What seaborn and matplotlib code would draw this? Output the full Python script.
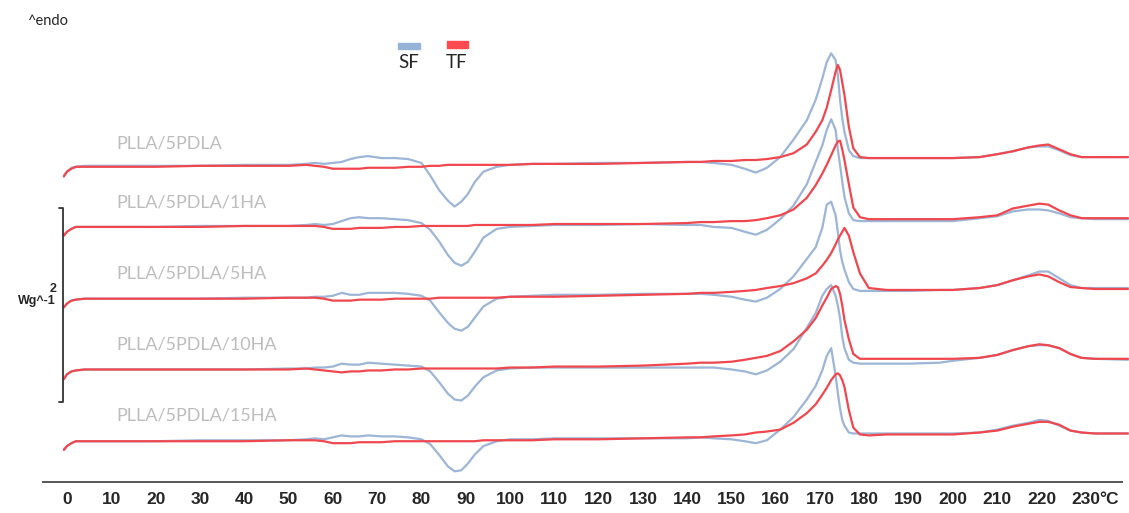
import numpy as np
import pandas as pd
import matplotlib
matplotlib.use("Agg")
import matplotlib.pyplot as plt
from matplotlib.patches import Rectangle
import seaborn as sns

# ---------------- data (heat flow in W/g, relative to each curve's melt baseline) -------------
TEMPS = [-0.7, 0, 1, 2, 4, 10, 20, 30, 40, 50,
         54, 56, 58, 60, 62, 64, 66, 68, 71, 74,
         77, 80, 82, 84, 86, 87.5, 89, 90.5, 92, 94,
         97, 100, 105, 110, 120, 130, 140, 143, 146, 150,
         153, 155.5, 158, 161, 164, 167, 169, 170.5, 171.5, 172.5,
         173.5, 174, 174.5, 175, 175.5, 176.5, 177.5, 179, 181, 185,
         190, 197, 200, 206, 210, 213.5, 217, 219.5, 221.5, 224,
         226.5, 229, 232, 239.5]

SAMPLES = ["PLLA/5PDLA", "PLLA/5PDLA/1HA", "PLLA/5PDLA/5HA",
           "PLLA/5PDLA/10HA", "PLLA/5PDLA/15HA"]
CONDITIONS = ["SF", "TF"]

SF_5PDLA = [-0.19, -0.15, -0.11, -0.10, -0.09, -0.09, -0.09, -0.09, -0.08, -0.08,
            -0.07, -0.06, -0.07, -0.06, -0.05, -0.02, 0.00, 0.01, -0.01, -0.01,
            -0.02, -0.06, -0.19, -0.34, -0.45, -0.51, -0.46, -0.38, -0.26, -0.15,
            -0.10, -0.08, -0.07, -0.07, -0.06, -0.06, -0.05, -0.05, -0.06, -0.08,
            -0.12, -0.16, -0.11, 0.00, 0.18, 0.38, 0.59, 0.81, 0.98, 1.07,
            1.00, 0.85, 0.59, 0.40, 0.26, 0.07, 0.01, -0.01, -0.01, -0.01,
            -0.01, -0.01, -0.01, 0.00, 0.03, 0.06, 0.10, 0.11, 0.11, 0.07,
            0.02, 0.00, 0.00, 0.00]
TF_5PDLA = [-0.20, -0.15, -0.12, -0.10, -0.10, -0.10, -0.10, -0.09, -0.09, -0.09,
            -0.08, -0.09, -0.10, -0.12, -0.12, -0.12, -0.12, -0.11, -0.11, -0.11,
            -0.10, -0.10, -0.09, -0.09, -0.08, -0.08, -0.08, -0.08, -0.08, -0.08,
            -0.08, -0.08, -0.07, -0.07, -0.07, -0.06, -0.05, -0.05, -0.04, -0.04,
            -0.03, -0.03, -0.02, 0.00, 0.04, 0.13, 0.26, 0.38, 0.51, 0.69,
            0.88, 0.95, 0.90, 0.77, 0.64, 0.31, 0.09, 0.00, -0.01, -0.01,
            -0.01, -0.01, -0.01, 0.00, 0.03, 0.06, 0.10, 0.12, 0.13, 0.08,
            0.03, 0.00, 0.00, 0.00]

SF_1HA = [-0.16, -0.13, -0.10, -0.08, -0.08, -0.08, -0.08, -0.07, -0.07, -0.07,
          -0.06, -0.05, -0.06, -0.05, -0.02, 0.01, 0.02, 0.01, 0.01, 0.00,
          -0.01, -0.04, -0.11, -0.23, -0.37, -0.45, -0.48, -0.44, -0.34, -0.19,
          -0.10, -0.08, -0.07, -0.06, -0.06, -0.05, -0.06, -0.06, -0.08, -0.09,
          -0.13, -0.16, -0.11, 0.00, 0.14, 0.36, 0.59, 0.76, 0.92, 1.03,
          0.92, 0.72, 0.56, 0.39, 0.23, 0.06, -0.01, -0.02, -0.02, -0.02,
          -0.02, -0.02, -0.02, 0.01, 0.03, 0.08, 0.10, 0.10, 0.09, 0.06,
          0.02, 0.01, 0.00, 0.00]
TF_1HA = [-0.17, -0.13, -0.10, -0.08, -0.08, -0.08, -0.08, -0.08, -0.07, -0.07,
          -0.07, -0.07, -0.08, -0.10, -0.10, -0.10, -0.09, -0.09, -0.09, -0.08,
          -0.08, -0.07, -0.07, -0.07, -0.07, -0.07, -0.07, -0.07, -0.06, -0.06,
          -0.06, -0.06, -0.06, -0.05, -0.05, -0.05, -0.04, -0.03, -0.03, -0.02,
          -0.02, -0.01, 0.01, 0.04, 0.10, 0.22, 0.35, 0.47, 0.56, 0.66,
          0.76, 0.80, 0.81, 0.72, 0.61, 0.36, 0.12, 0.02, 0.00, 0.00,
          0.00, 0.00, 0.00, 0.02, 0.04, 0.11, 0.14, 0.16, 0.15, 0.09,
          0.04, 0.01, 0.01, 0.01]

SF_5HA = [-0.19, -0.15, -0.12, -0.11, -0.10, -0.10, -0.10, -0.10, -0.09, -0.09,
          -0.09, -0.08, -0.08, -0.07, -0.04, -0.06, -0.06, -0.04, -0.04, -0.04,
          -0.05, -0.07, -0.12, -0.24, -0.35, -0.41, -0.43, -0.39, -0.30, -0.18,
          -0.10, -0.08, -0.07, -0.06, -0.06, -0.05, -0.05, -0.05, -0.06, -0.08,
          -0.11, -0.13, -0.09, 0.00, 0.13, 0.31, 0.43, 0.63, 0.87, 0.90,
          0.76, 0.59, 0.40, 0.28, 0.20, 0.07, 0.00, -0.02, -0.02, -0.02,
          -0.02, -0.01, -0.01, 0.01, 0.04, 0.09, 0.14, 0.18, 0.18, 0.11,
          0.04, 0.01, 0.01, 0.01]
TF_5HA = [-0.19, -0.15, -0.12, -0.11, -0.10, -0.10, -0.10, -0.10, -0.10, -0.09,
          -0.09, -0.09, -0.10, -0.12, -0.12, -0.12, -0.11, -0.11, -0.11, -0.10,
          -0.10, -0.10, -0.10, -0.09, -0.09, -0.09, -0.09, -0.09, -0.09, -0.09,
          -0.09, -0.08, -0.08, -0.08, -0.07, -0.06, -0.05, -0.04, -0.04, -0.03,
          -0.02, -0.01, 0.01, 0.03, 0.06, 0.11, 0.16, 0.24, 0.30, 0.37,
          0.46, 0.51, 0.55, 0.59, 0.63, 0.55, 0.38, 0.16, 0.01, -0.01,
          -0.01, -0.01, -0.01, 0.01, 0.04, 0.09, 0.13, 0.15, 0.13, 0.07,
          0.02, 0.01, 0.00, 0.00]

SF_10HA = [-0.20, -0.16, -0.13, -0.12, -0.11, -0.11, -0.11, -0.11, -0.11, -0.10,
           -0.10, -0.09, -0.09, -0.08, -0.05, -0.06, -0.06, -0.04, -0.05, -0.06,
           -0.07, -0.08, -0.13, -0.24, -0.36, -0.42, -0.43, -0.38, -0.29, -0.19,
           -0.12, -0.10, -0.09, -0.09, -0.09, -0.09, -0.09, -0.09, -0.09, -0.11,
           -0.13, -0.16, -0.12, -0.03, 0.10, 0.32, 0.47, 0.65, 0.72, 0.76,
           0.65, 0.55, 0.42, 0.23, 0.11, -0.01, -0.04, -0.05, -0.05, -0.05,
           -0.05, -0.04, -0.02, 0.01, 0.04, 0.09, 0.13, 0.14, 0.14, 0.11,
           0.05, 0.01, 0.00, -0.01]
TF_10HA = [-0.21, -0.16, -0.13, -0.12, -0.11, -0.11, -0.11, -0.11, -0.11, -0.11,
           -0.10, -0.11, -0.12, -0.13, -0.14, -0.13, -0.13, -0.12, -0.12, -0.11,
           -0.11, -0.10, -0.10, -0.10, -0.10, -0.10, -0.10, -0.10, -0.10, -0.10,
           -0.10, -0.09, -0.09, -0.08, -0.08, -0.07, -0.05, -0.04, -0.04, -0.03,
           -0.01, 0.01, 0.03, 0.08, 0.18, 0.30, 0.42, 0.55, 0.63, 0.72,
           0.75, 0.74, 0.67, 0.55, 0.40, 0.20, 0.05, 0.00, 0.00, 0.00,
           0.00, 0.00, 0.00, 0.01, 0.04, 0.09, 0.13, 0.15, 0.14, 0.11,
           0.05, 0.01, 0.00, 0.00]

SF_15HA = [-0.16, -0.13, -0.10, -0.08, -0.08, -0.08, -0.08, -0.07, -0.07, -0.07,
           -0.06, -0.05, -0.06, -0.04, -0.02, -0.03, -0.03, -0.02, -0.03, -0.03,
           -0.04, -0.06, -0.11, -0.22, -0.34, -0.39, -0.38, -0.31, -0.22, -0.13,
           -0.08, -0.06, -0.06, -0.05, -0.05, -0.05, -0.05, -0.04, -0.05, -0.06,
           -0.08, -0.10, -0.07, 0.04, 0.17, 0.35, 0.49, 0.65, 0.80, 0.88,
           0.60, 0.42, 0.26, 0.14, 0.08, 0.01, 0.00, 0.00, 0.00, 0.00,
           0.00, 0.00, 0.00, 0.01, 0.04, 0.08, 0.11, 0.14, 0.13, 0.08,
           0.03, 0.01, 0.00, 0.00]
TF_15HA = [-0.17, -0.13, -0.10, -0.08, -0.08, -0.08, -0.08, -0.08, -0.08, -0.07,
           -0.07, -0.07, -0.08, -0.10, -0.10, -0.10, -0.09, -0.09, -0.09, -0.08,
           -0.08, -0.08, -0.08, -0.08, -0.08, -0.08, -0.08, -0.08, -0.08, -0.07,
           -0.07, -0.07, -0.07, -0.06, -0.06, -0.05, -0.04, -0.04, -0.03, -0.02,
           -0.01, 0.01, 0.02, 0.04, 0.11, 0.21, 0.30, 0.40, 0.47, 0.55,
           0.61, 0.62, 0.60, 0.55, 0.48, 0.24, 0.06, -0.01, -0.02, -0.01,
           -0.01, -0.01, -0.01, 0.01, 0.03, 0.07, 0.10, 0.12, 0.12, 0.09,
           0.03, 0.01, 0.00, 0.00]

CURVES = {
    ("PLLA/5PDLA", "SF"): SF_5PDLA, ("PLLA/5PDLA", "TF"): TF_5PDLA,
    ("PLLA/5PDLA/1HA", "SF"): SF_1HA, ("PLLA/5PDLA/1HA", "TF"): TF_1HA,
    ("PLLA/5PDLA/5HA", "SF"): SF_5HA, ("PLLA/5PDLA/5HA", "TF"): TF_5HA,
    ("PLLA/5PDLA/10HA", "SF"): SF_10HA, ("PLLA/5PDLA/10HA", "TF"): TF_10HA,
    ("PLLA/5PDLA/15HA", "SF"): SF_15HA, ("PLLA/5PDLA/15HA", "TF"): TF_15HA,
}

TICKS = list(range(0, 231, 10))
TICK_LABELS = [str(t) for t in TICKS]

# ---------------- layout / style -------------------------------------------------------------
STACK_OFFSET = [3.35, 2.71, 1.99, 1.27, 0.50]   # W/g vertical shift of each sample
LABEL_DY = [0.14, 0.17, 0.16, 0.15, 0.19]
BLUE = "#9db5d6"
RED = "#f0474e"
LABEL_GREY = "#bdbdbd"
W, H = 1129, 513

sns.set_style("white")
plt.rcParams["font.family"] = ["Lato", "DejaVu Sans"]

rows = []
for i, s in enumerate(SAMPLES):
    for c in CONDITIONS:
        for t, v in zip(TEMPS, CURVES[(s, c)]):
            rows.append({"T": t, "hf": v + STACK_OFFSET[i], "sample": s, "cond": c})
df = pd.DataFrame(rows)

fig = plt.figure(figsize=(W / 100, H / 100), dpi=100)
ax = fig.add_axes([0, 0, 1, 1])
ax.set_facecolor("white")

for c, col in zip(CONDITIONS, [BLUE, RED]):
    sns.lineplot(data=df[df["cond"] == c], x="T", y="hf", units="sample",
                 estimator=None, sort=False, color=col, lw=1.6, ax=ax, legend=False)

ax.set_xlim(-15.12, 239.73)
ax.set_ylim(-0.32, 4.97)
ax.set_xlabel("")
ax.set_ylabel("")
ax.set_yticks([])
for sp in ["left", "right", "top"]:
    ax.spines[sp].set_visible(False)
ax.spines["bottom"].set_position(("data", 0))
ax.spines["bottom"].set_bounds(-5.4, 238.1)
ax.spines["bottom"].set_color("#555555")
ax.spines["bottom"].set_linewidth(1.4)

ax.set_xticks(TICKS)
ax.set_xticks(np.arange(-4, 239, 2), minor=True)
ax.set_xticklabels(TICK_LABELS, fontsize=12.5, fontweight="bold",
                   family=["Liberation Sans", "DejaVu Sans"])
ax.tick_params(axis="x", which="major", length=5, width=1, color="#555555",
               pad=2.5, direction="out")
ax.tick_params(axis="x", which="minor", length=3, width=0.8, color="#555555",
               direction="out")
ax.annotate("°C", xy=(233.0, 0), xycoords="data", xytext=(0, -7.5),
            textcoords="offset points", ha="left", va="top", fontsize=12.5,
            fontweight="bold", family=["Liberation Sans", "DejaVu Sans"])

# sample labels
for i, s in enumerate(SAMPLES):
    ax.text(11.06, STACK_OFFSET[i] + LABEL_DY[i], s, color=LABEL_GREY,
            fontsize=13, ha="left", va="center")

# 2 W/g scale bar
bar_bottom = 0.825
bar_len = 2
ax.plot([-1.8, -0.9, -0.9, -1.8], [bar_bottom, bar_bottom, bar_bottom + bar_len,
        bar_bottom + bar_len], color="#333333", lw=1.3, clip_on=False)
fig.text(57 / W, 1 - 289 / H, "2", ha="right", va="center", fontsize=9,
         fontweight="bold", family=["Liberation Sans", "DejaVu Sans"])
fig.text(56 / W, 1 - 301 / H, "Wg^-1", ha="right", va="center", fontsize=9,
         fontweight="bold", family=["Liberation Sans", "DejaVu Sans"])

fig.text(27 / W, 1 - 21 / H, "^endo", ha="left", va="center", fontsize=10.5)

# legend
ax.add_patch(Rectangle((398 / W, 1 - 49 / H), 22 / W, 6 / H, transform=ax.transAxes,
                       color="#95b3d7", clip_on=False))
ax.add_patch(Rectangle((447 / W, 1 - 48 / H), 21 / W, 7 / H, transform=ax.transAxes,
                       color="#ff4b4f", clip_on=False))
fig.text(409 / W, 1 - 62 / H, "SF", ha="center", va="center", fontsize=13.5)
fig.text(457 / W, 1 - 62 / H, "TF", ha="center", va="center", fontsize=13.5)

fig.savefig("out.png", dpi=100)
